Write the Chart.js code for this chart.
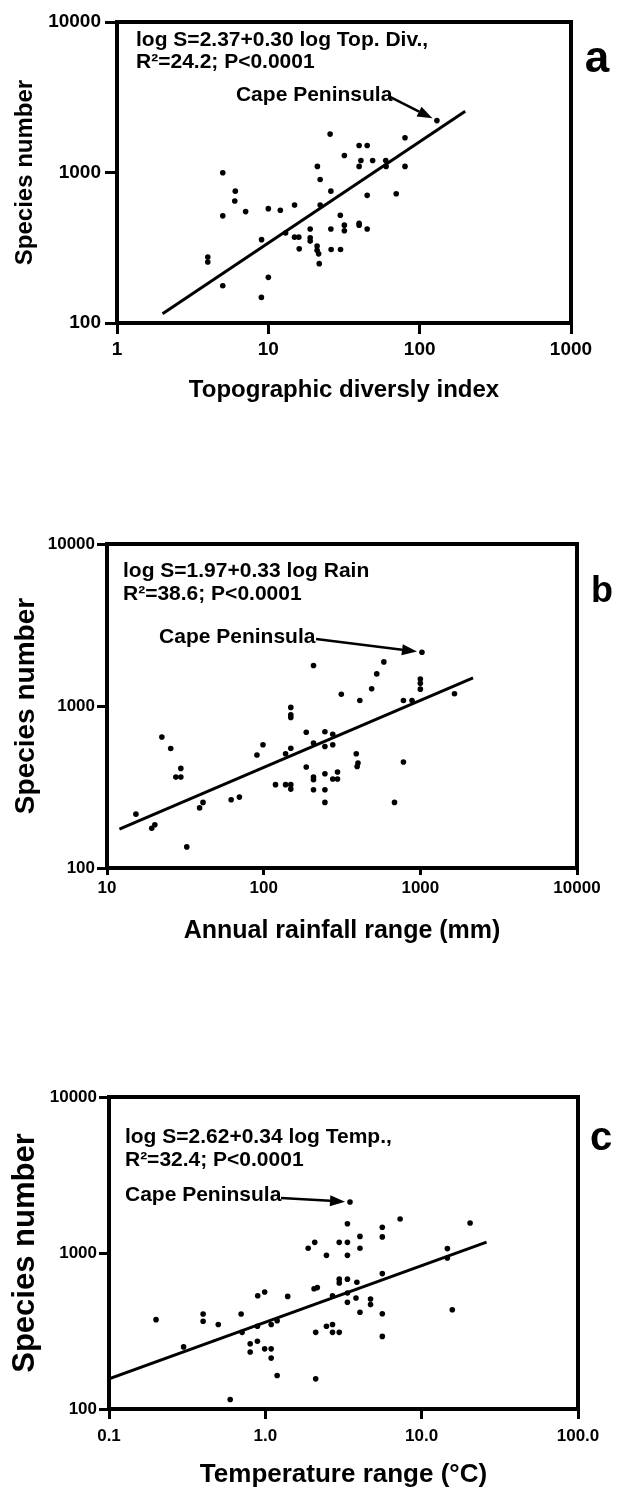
<!DOCTYPE html>
<html>
<head>
<meta charset="utf-8">
<script src="https://cdn.jsdelivr.net/npm/chart.js@4.4.0/dist/chart.umd.min.js"></script>
<style>
  html, body { margin: 0; padding: 0; background: #fff; }
  body { width: 621px; height: 1490px; position: relative; overflow: hidden; }
  .panel { position: absolute; left: 0; width: 621px; }
</style>
</head>
<body>
<div class="panel" style="top:0;height:420px"><canvas id="chartA" width="621" height="420"></canvas></div>
<div class="panel" style="top:480px;height:480px"><canvas id="chartB" width="621" height="480"></canvas></div>
<div class="panel" style="top:1000px;height:490px"><canvas id="chartC" width="621" height="490"></canvas></div>
<script>
// Panel a - topographic diversity (first point = Cape Peninsula)
const topoX = [130, 25.6, 80, 39.8, 45, 31.8, 40.9, 48.9, 39.8, 59.7, 60, 80, 21.1, 5.0, 22, 6.05, 25.9, 6.0, 70, 45,
  14.9, 7.08, 10, 12, 5, 22, 29.9, 31.8, 31.8, 39.8, 39.8, 45, 25.9, 18.9, 13, 14.9, 15.9, 18.9, 18.9, 9.02,
  16, 21, 21, 21.5, 21.7, 26, 30, 3.98, 3.98, 10, 5, 9];
const topoS = [2213, 1800, 1702, 1510, 1510, 1297, 1202, 1202, 1098, 1202, 1098, 1098, 1098, 997, 898, 752, 752, 646, 722, 705,
  608, 550, 575, 561, 515, 608, 520, 447, 410, 460, 447, 421, 421, 421, 396, 372, 372, 368, 350, 358,
  311, 325, 304, 288, 248, 308, 308, 274, 254, 201, 177, 148];
const topoFitX = [2, 200];
const topoFitS = [115, 2550];
const topoTicks = [1, 10, 100, 1000];
const topoTickLabels = ["1", "10", "100", "1000"];

// Panel b - rainfall range
const rainX = [1024, 585, 527, 489, 208, 313, 411, 1000, 1000, 1000, 780, 885, 1652, 149, 149, 149, 22.4, 25.5, 29.6, 27.5,
  29.6, 90.6, 99, 138, 149, 187, 208, 246, 246, 276, 276, 187, 208, 208, 246, 296, 276, 296, 390, 400,
  395, 780, 119, 138, 149, 149, 208, 246, 246, 684, 62, 70, 41, 39, 15.3, 20.2, 19.3, 32.3];
const rainS = [2148, 1872, 1578, 1276, 1778, 1183, 1081, 1469, 1383, 1271, 1081, 1081, 1189, 980, 881, 849, 643, 547, 412, 364,
  364, 498, 577, 507, 549, 688, 590, 693, 562, 670, 577, 420, 364, 351, 382, 391, 354, 354, 507, 444,
  423, 451, 327, 327, 327, 307, 304, 304, 254, 254, 264, 274, 254, 235, 215, 185, 176, 135];
const rainFitX = [12, 2170];
const rainFitS = [174, 1490];
const rainTicks = [10, 100, 1000, 10000];
const rainTickLabels = ["10", "100", "1000", "10000"];

// Panel c - temperature range
const tempX = [3.48, 3.35, 7.28, 20.4, 5.6, 5.6, 4.03, 4.03, 2.97, 3.35, 2.07, 1.88, 2.46, 3.35, 14.6, 14.6, 5.6, 2.97, 2.97, 3.35,
  3.85, 2.05, 2.15, 2.69, 3.35, 3.35, 3.8, 4.71, 4.71, 4.03, 5.6, 5.6, 15.7, 0.894, 0.99, 1.39, 0.70, 0.40, 0.40, 0.50,
  0.20, 0.30, 0.71, 0.89, 1.09, 1.19, 0.80, 0.80, 0.89, 0.99, 1.09, 1.09, 1.19, 0.596, 2.10, 2.46, 2.69, 2.69, 2.97, 2.10];
const tempS = [2123, 1541, 1653, 1556, 1462, 1268, 1278, 1072, 1170, 1170, 1170, 1072, 966, 966, 1067, 929, 738, 680, 643, 680,
  649, 590, 600, 532, 554, 483, 515, 507, 467, 417, 408, 292, 433, 532, 562, 527, 406, 406, 365, 348,
  374, 250, 310, 339, 348, 368, 262, 232, 272, 243, 243, 212, 164, 115, 310, 339, 348, 310, 310, 156];
const tempFitX = [0.1, 26];
const tempFitS = [156, 1175];
const tempTicks = [0.1, 1, 10, 100];
const tempTickLabels = ["0.1", "1.0", "10.0", "100.0"];

const speciesTicks = [100, 1000, 10000];
const speciesTickLabels = ["100", "1000", "10000"];

const FONT = '"Liberation Sans", Arial, sans-serif';

// frame, equation text, Cape Peninsula arrow and panel letter
function notesPlugin(n) {
  return {
    id: "notes",
    afterDraw(chart) {
      const ctx = chart.ctx, a = chart.chartArea;
      const xs = chart.scales.x, ys = chart.scales.y;
      ctx.save();
      ctx.strokeStyle = "#000";
      ctx.lineWidth = 4;
      ctx.strokeRect(a.left, a.top, a.right - a.left, a.bottom - a.top);

      ctx.fillStyle = "#000";
      ctx.font = "bold 21px " + FONT;
      ctx.textBaseline = "middle";
      ctx.textAlign = "left";
      n.eq.forEach((t, i) => ctx.fillText(t, xs.getPixelForValue(n.eqX), ys.getPixelForValue(n.eqY[i])));
      ctx.fillText("Cape Peninsula", xs.getPixelForValue(n.capeX), ys.getPixelForValue(n.capeY));

      // arrow to the Cape Peninsula point
      const sx = xs.getPixelForValue(n.arrowFrom[0]), sy = ys.getPixelForValue(n.arrowFrom[1]);
      const px = xs.getPixelForValue(n.target[0]), py = ys.getPixelForValue(n.target[1]);
      const ang = Math.atan2(py - sy, px - sx);
      const ex = px - 5 * Math.cos(ang), ey = py - 5 * Math.sin(ang);
      const hl = 15, hw = 5.5;
      ctx.lineWidth = 2.5;
      ctx.beginPath();
      ctx.moveTo(sx, sy);
      ctx.lineTo(ex - hl * Math.cos(ang), ey - hl * Math.sin(ang));
      ctx.stroke();
      ctx.beginPath();
      ctx.moveTo(ex, ey);
      ctx.lineTo(ex - hl * Math.cos(ang) + hw * Math.sin(ang), ey - hl * Math.sin(ang) - hw * Math.cos(ang));
      ctx.lineTo(ex - hl * Math.cos(ang) - hw * Math.sin(ang), ey - hl * Math.sin(ang) + hw * Math.cos(ang));
      ctx.closePath();
      ctx.fill();

      ctx.font = "bold " + n.letterSize + "px " + FONT;
      ctx.textAlign = "center";
      ctx.textBaseline = "alphabetic";
      ctx.fillText(n.letter, a.right + n.letterDx, a.top + n.letterDy);
      ctx.restore();
    }
  };
}

function makePanel(id, xs, ys, fitX, fitY, xTicks, xTickLabels, xTitle, o, notes) {
  new Chart(document.getElementById(id), {
    type: "scatter",
    data: {
      datasets: [
        {
          data: xs.map((x, i) => ({ x: x, y: ys[i] })),
          pointRadius: 2.8,
          pointBackgroundColor: "#000",
          pointBorderWidth: 0
        },
        {
          type: "line",
          data: fitX.map((x, i) => ({ x: x, y: fitY[i] })),
          showLine: true,
          borderColor: "#000",
          borderWidth: 3,
          pointRadius: 0,
          fill: false
        }
      ]
    },
    options: {
      responsive: false,
      animation: false,
      layout: { padding: { top: o.padTop, right: o.padRight, left: 0, bottom: 0 } },
      plugins: { legend: { display: false }, tooltip: { enabled: false } },
      scales: {
        x: {
          type: "logarithmic",
          min: xTicks[0], max: xTicks[xTicks.length - 1],
          afterBuildTicks: s => { s.ticks = xTicks.map(v => ({ value: v })); },
          afterFit: s => { s.height = o.xAxisH; },
          ticks: {
            callback: (v, i) => xTickLabels[i],
            color: "#000", autoSkip: false, maxRotation: 0,
            padding: o.xTickPad,
            font: { family: FONT, weight: "bold", size: o.tickSize }
          },
          grid: { drawOnChartArea: false, tickLength: o.xTickLen, tickWidth: 3, tickColor: "#000" },
          border: { width: 4, color: "#000" },
          title: {
            display: true, text: xTitle, color: "#000",
            font: { family: FONT, weight: "bold", size: o.xTitleSize },
            padding: { top: 0, bottom: o.xTitlePad }
          }
        },
        y: {
          type: "logarithmic",
          min: 100, max: 10000,
          afterBuildTicks: s => { s.ticks = speciesTicks.map(v => ({ value: v })); },
          afterFit: s => { s.width = o.yAxisW; },
          ticks: {
            callback: (v, i) => speciesTickLabels[i],
            color: "#000", autoSkip: false,
            padding: o.yTickPad,
            font: { family: FONT, weight: "bold", size: o.tickSize }
          },
          grid: { drawOnChartArea: false, tickLength: o.yTickLen, tickWidth: 3, tickColor: "#000" },
          border: { width: 4, color: "#000" },
          title: {
            display: true, text: "Species number", color: "#000",
            font: { family: FONT, weight: "bold", size: o.yTitleSize },
            padding: { top: o.yTitlePad, bottom: 0 }
          }
        }
      }
    },
    plugins: [notesPlugin(notes)]
  });
}

makePanel("chartA", topoX, topoS, topoFitX, topoFitS, topoTicks, topoTickLabels, "Topographic diversly index",
  { padTop: 22, padRight: 50, yAxisW: 117, xAxisH: 97, tickSize: 19, xTickLen: 11, xTickPad: 4, yTickLen: 12, yTickPad: 4,
    xTitleSize: 24, xTitlePad: 15, yTitleSize: 24, yTitlePad: 11 },
  { eq: ["log S=2.37+0.30 log Top. Div.,", "R²=24.2; P<0.0001"], eqX: 1.336, eqY: [7590, 5423],
    capeX: 6.11, capeY: 3273, arrowFrom: [63.7, 3175], target: [topoX[0], topoS[0]],
    letter: "a", letterSize: 44, letterDx: 26, letterDy: 50 });

makePanel("chartB", rainX, rainS, rainFitX, rainFitS, rainTicks, rainTickLabels, "Annual rainfall range (mm)",
  { padTop: 64, padRight: 44, yAxisW: 107, xAxisH: 92, tickSize: 17, xTickLen: 7, xTickPad: 3, yTickLen: 10, yTickPad: 2,
    xTitleSize: 25, xTitlePad: 14, yTitleSize: 28, yTitlePad: 9 },
  { eq: ["log S=1.97+0.33 log Rain", "R²=38.6; P<0.0001"], eqX: 12.65, eqY: [6813, 4915],
    capeX: 21.5, capeY: 2667, arrowFrom: [216, 2592], target: [rainX[0], rainS[0]],
    letter: "b", letterSize: 36, letterDx: 25, letterDy: 58 });

makePanel("chartC", tempX, tempS, tempFitX, tempFitS, tempTicks, tempTickLabels, "Temperature range (°C)",
  { padTop: 97, padRight: 43, yAxisW: 109, xAxisH: 81, tickSize: 17, xTickLen: 10, xTickPad: 7, yTickLen: 10, yTickPad: 2,
    xTitleSize: 26, xTitlePad: 0, yTitleSize: 31, yTitlePad: 7 },
  { eq: ["log S=2.62+0.34 log Temp.,", "R²=32.4; P<0.0001"], eqX: 0.1265, eqY: [5542, 3948],
    capeX: 0.1265, capeY: 2355, arrowFrom: [1.26, 2253], target: [tempX[0], tempS[0]],
    letter: "c", letterSize: 40, letterDx: 23, letterDy: 53 });
</script>
</body>
</html>
